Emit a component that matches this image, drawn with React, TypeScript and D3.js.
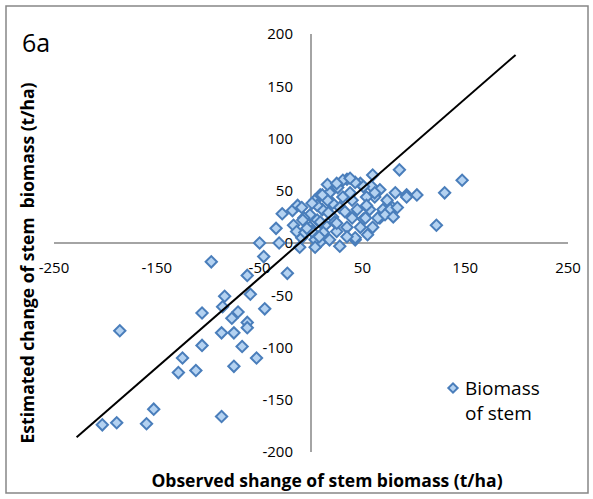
import React from 'react';
import * as d3 from 'd3';

// observed change (x) and estimated change (y) of stem biomass, t/ha
const observed = [
  -50, -31, -46, -97, -62, -23, -59, -84, -86, -45, -106, -71, -77, -62, -62, -186, -87, -75, -106, -67,
  -125, -53, -75, -112, -129, -153, -87, -189, -203, -160,
  -34, -28, -18, -17, -13, -11, -9,
  43, 28, 51, 67, 80, 82, 93, 103, 86, 122, 147, 130, 60, 35, 48, 79, 70, 65, 62, 59, 67, 93, 43, 53, 43,
  9, 14, 4, -9, -14, 18, 28, 40, 54, 74, 77, 84, 57, 45, 21, 6, -1, 12, 25, 35, 48, -1, -6, 18,
  62, 51, 31, 11, 21, 4, 6, 23, 33, 16, 1, 40, 54, -7, 9, 26, 38, -4, 8, 31, 11, 4,
  1, 16, 25, 38, 72, 80, 60, 55, 35, 25, 17, 9, -8,
];
const estimated = [
  0, 0, -13, -18, -31, -29, -49, -51, -61, -63, -67, -66, -72, -76, -81, -84, -86, -86, -98, -99,
  -110, -110, -118, -122, -124, -159, -166, -172, -174, -173,
  14, 28, 31, 17, 36, -4, 5,
  3, -3, 23, 24, 33, 48, 46, 46, 70, 17, 60, 48, 65, 61, 57, 34, 32, 24, 44, 54, 51, 44, 58, 24, 5,
  1, 17, 41, 34, 11, 48, 34, 41, 44, 41, 32, 34, 32, 32, 25, 22, 15, 10, 11, 15, 15, 27, 10, 3,
  48, 54, 44, 32, 38, 3, 36, 20, 30, 41, 11, 24, 36, 24, 46, 53, 48, 14, 6, 60, 46, -4,
  38, 56, 57, 62, 27, 25, 15, 8, 6, 19, 29, 20, 22,
];

// fitted line end points
const lineX = [-228, 199];
const lineY = [-186, 180];

const xTicks = [-250, -150, -50, 50, 150, 250];
const yTicks = [200, 150, 100, 50, 0, -50, -100, -150, -200];

const W = 593;
const H = 499;
const font = "'Open Sans', 'Liberation Sans', sans-serif";

export default function App() {
  const x = d3.scaleLinear().domain([-250, 250]).range([54, 568]);
  const y = d3.scaleLinear().domain([-200, 200]).range([452, 34]);

  const diamond = d3.symbol(d3.symbolSquare, 64)() as string;
  const pts = observed.map((o, i) => ({ o, e: estimated[i] }));
  const line = d3
    .line<number>()
    .x((d) => x(d))
    .y((_, i) => y(lineY[i]));

  return (
    <svg
      width={W}
      height={H}
      style={{ position: 'absolute', left: 0, top: 0, background: '#fff' }}
      fontFamily={font}
    >
      <rect x={6} y={6} width={582} height={487} fill="#fff" stroke="#868686" strokeWidth={1.5} />

      <text x={22} y={52} fontSize={25} fill="#000">6a</text>

      {/* axes crossing at zero */}
      <line x1={x(0)} x2={x(0)} y1={y(200)} y2={y(-200)} stroke="#868686" strokeWidth={1.5} />
      <line x1={x(-250)} x2={x(250)} y1={y(0)} y2={y(0)} stroke="#868686" strokeWidth={1.5} />

      {yTicks.map((t) => (
        <text key={'y' + t} x={x(0) - 18} y={y(t)} dy="0.35em" textAnchor="end" fontSize={15} fill="#000">
          {t}
        </text>
      ))}
      {xTicks.map((t) => (
        <text key={'x' + t} x={x(t)} y={y(0) + 25} dy="0.35em" textAnchor="middle" fontSize={15} fill="#000">
          {t}
        </text>
      ))}

      {pts.map((d, i) => (
        <path
          key={i}
          d={diamond}
          transform={`translate(${x(d.o)},${y(d.e)}) rotate(45)`}
          fill="#b4d2f1"
          stroke="#4a7ebb"
          strokeWidth={2}
        />
      ))}

      <path d={line(lineX) as string} fill="none" stroke="#000" strokeWidth={2} />

      <text x={327} y={487} textAnchor="middle" fontSize={17.5} fontWeight="bold" fill="#000">
        Observed shange of stem biomass (t/ha)
      </text>
      <text
        transform="translate(34,263) rotate(-90)"
        textAnchor="middle"
        fontSize={17.5}
        fontWeight="bold"
        fill="#000"
        style={{ whiteSpace: 'pre' }}
      >
        Estimated change of stem  biomass (t/ha)
      </text>

      {/* legend */}
      <path
        d={d3.symbol(d3.symbolSquare, 44)() as string}
        transform="translate(453,388) rotate(45)"
        fill="#b4d2f1"
        stroke="#4a7ebb"
        strokeWidth={2}
      />
      <text x={465} y={395} fontSize={19} fill="#000">Biomass</text>
      <text x={465} y={420} fontSize={19} fill="#000">of stem</text>
    </svg>
  );
}
